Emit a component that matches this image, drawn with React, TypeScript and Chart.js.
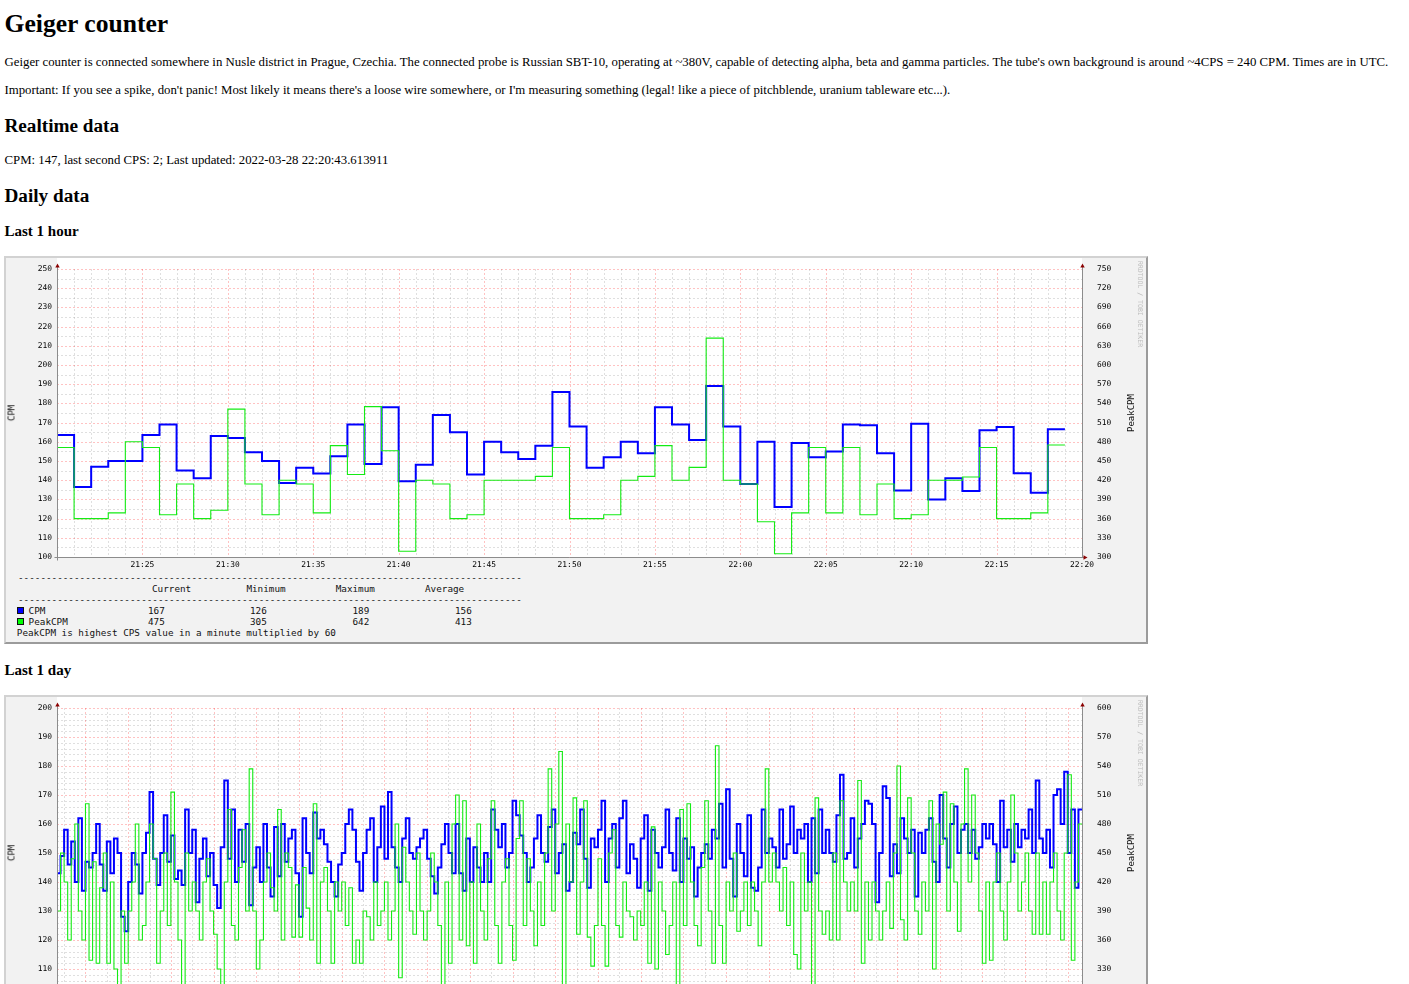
import React, { useEffect, useRef } from 'react';
import { Chart, registerables } from 'chart.js';

Chart.register(...registerables);

// ---------------- Last 1 hour: one value per minute, first step starts 21:20 UTC
const hourStart = '21:20';
const hourTickLabels = ['21:25', '21:30', '21:35', '21:40', '21:45', '21:50', '21:55', '22:00', '22:05', '22:10', '22:15', '22:20'];
const hourCPM = [
  163.5, 136.5, 147, 150, 150, 163.5, 169, 145, 141, 163, 162, 154.5, 150, 138.5, 146.5, 143.5, 152.5, 169, 148.5, 178,
  139.5, 148, 174, 165, 143, 160, 154.5, 151, 158, 186, 168, 146.5, 152, 160, 154, 178, 169, 161, 189, 168,
  138, 160, 126, 159.4, 152, 155, 169, 168.6, 154, 134.7, 169.4, 130, 141, 134.4, 166, 167.7, 143.6, 133.5, 166.5,
];
const hourPeakCPM = [
  471, 360, 360, 369, 480, 471, 366, 414, 360, 373, 531, 414, 366, 420, 414, 369, 474, 429, 535, 466,
  309, 420, 414, 360, 366, 420, 420, 420, 426, 471, 360, 360, 366, 420, 426, 474, 420, 440, 642, 420,
  414, 355, 305, 369, 471, 369, 471, 366, 414, 360, 366, 420, 420, 425, 471, 360, 360, 369, 475,
];
const hourLegendCPM = ['167', '126', '189', '156'];
const hourLegendPeak = ['475', '305', '642', '413'];

// ---------------- Last 1 day: 5-minute steps, first step starts 22:20 UTC the day before
const dayStart = '22:20';
const dayTickLabels = ['00:00', '02:00', '04:00', '06:00', '08:00', '10:00', '12:00', '14:00', '16:00', '18:00', '20:00', '22:00'];
const dayCPM = [
  143, 149, 158, 146, 154, 140, 162, 137, 147, 145, 150, 160,
  146, 137, 154, 143, 155, 150, 128, 123, 140, 150, 146, 136,
  150, 157, 171, 148, 139, 150, 163, 147, 156, 141, 144, 139,
  165, 150, 158, 133, 148, 155, 142, 150, 139, 131, 152, 175,
  148, 165, 140, 158, 147, 160, 132, 145, 152, 140, 160, 145,
  135, 159, 142, 160, 147, 155, 158, 143, 128, 162, 150, 143,
  164, 155, 158, 153, 147, 140, 135, 146, 150, 160, 165, 158,
  147, 137, 150, 158, 162, 140, 152, 166, 148, 171, 152, 145,
  140, 155, 162, 150, 148, 152, 155, 158, 148, 142, 136, 145,
  153, 160, 150, 143, 160, 143, 137, 155, 140, 152, 145, 140,
  150, 140, 165, 158, 152, 160, 145, 150, 168, 163, 156, 150,
  140, 145, 155, 163, 150, 147, 159, 165, 143, 150, 153, 137,
  140, 157, 153, 165, 148, 138, 155, 152, 158, 168, 140, 155,
  160, 145, 162, 168, 143, 153, 148, 138, 155, 163, 137, 158,
  150, 145, 152, 165, 150, 144, 162, 140, 155, 148, 152, 135,
  145, 150, 153, 148, 158, 155, 167, 145, 172, 148, 135, 160,
  150, 142, 163, 138, 137, 145, 165, 150, 155, 152, 145, 165,
  148, 153, 166, 150, 158, 155, 160, 140, 162, 143, 165, 150,
  158, 150, 147, 163, 177, 148, 150, 162, 145, 155, 160, 168,
  167, 160, 133, 150, 173, 169, 142, 153, 143, 162, 155, 150,
  158, 135, 157, 150, 158, 162, 147, 140, 170, 155, 145, 160,
  166, 150, 158, 160, 150, 158, 148, 152, 160, 155, 160, 153,
  140, 168, 152, 158, 147, 160, 152, 158, 155, 165, 150, 175,
  155, 150, 158, 145, 170, 172, 160, 178, 150, 165, 138, 165,
];
const dayPeakCPM = [
  390, 450, 420, 360, 444, 480, 390, 360, 501, 339, 441, 336,
  414, 450, 336, 420, 330, 300, 390, 336, 390, 420, 480, 360,
  375, 420, 480, 444, 336, 390, 450, 375, 513, 420, 360, 300,
  450, 390, 420, 390, 360, 420, 444, 390, 366, 330, 300, 420,
  495, 375, 360, 435, 474, 390, 537, 390, 330, 360, 420, 450,
  414, 390, 495, 360, 450, 435, 363, 417, 363, 435, 393, 360,
  501, 336, 420, 435, 390, 336, 420, 390, 420, 375, 414, 336,
  360, 336, 390, 384, 360, 420, 375, 390, 420, 360, 390, 480,
  321, 456, 420, 390, 366, 450, 390, 360, 390, 450, 420, 375,
  300, 420, 336, 480, 510, 360, 504, 354, 420, 336, 480, 390,
  360, 444, 504, 375, 336, 420, 444, 375, 339, 465, 504, 375,
  444, 390, 354, 420, 375, 450, 537, 390, 480, 555, 300, 480,
  420, 507, 366, 420, 504, 363, 333, 375, 444, 375, 333, 450,
  474, 375, 363, 420, 390, 384, 360, 390, 375, 420, 336, 477,
  330, 420, 390, 345, 375, 420, 300, 495, 375, 501, 420, 375,
  354, 435, 504, 390, 336, 561, 375, 336, 420, 390, 450, 369,
  390, 420, 375, 420, 390, 354, 420, 537, 420, 450, 420, 390,
  435, 375, 420, 345, 330, 450, 390, 420, 300, 507, 390, 366,
  390, 360, 450, 360, 504, 420, 390, 420, 390, 525, 336, 420,
  360, 420, 390, 360, 390, 420, 372, 450, 540, 381, 360, 507,
  450, 390, 366, 420, 390, 504, 330, 480, 459, 513, 390, 501,
  420, 369, 480, 537, 420, 510, 450, 390, 336, 420, 339, 420,
  450, 390, 360, 420, 510, 450, 390, 420, 450, 390, 366, 450,
  366, 420, 366, 420, 450, 390, 360, 450, 531, 339, 420, 480,
];

// ---------------- helpers
const MONO = '"DejaVu Sans Mono", monospace';
const SERIF = '"Liberation Serif", "Times New Roman", serif';

function toMinutes(hhmm: string): number {
  const [h, m] = hhmm.split(':').map(Number);
  return h * 60 + m;
}
function offsetFrom(start: string, label: string): number {
  let d = toMinutes(label) - toMinutes(start);
  if (d <= 0) d += 1440;
  return d;
}
function stats(values: number[]): string[] {
  const cur = values[values.length - 1];
  const min = Math.min(...values);
  const max = Math.max(...values);
  const avg = values.reduce((s, v) => s + v, 0) / values.length;
  return [cur, min, max, avg].map((v) => String(Math.round(v)));
}

const rrdDecor = {
  id: 'rrdDecor',
  beforeDraw(chart: any) {
    const { ctx, chartArea: a } = chart;
    ctx.save();
    ctx.fillStyle = '#ffffff';
    ctx.fillRect(a.left, 0, a.right - a.left, a.bottom);
    ctx.restore();
  },
  beforeDatasetsDraw(chart: any, _args: any, o: any) {
    const { ctx, chartArea: a, scales } = chart;
    const xs = scales.x;
    const ys = scales.y;
    ctx.save();
    ctx.lineWidth = 1;
    ctx.setLineDash([2, 2]);
    const vline = (val: number, color: string) => {
      const p = Math.round(xs.getPixelForValue(val)) + 0.5;
      ctx.strokeStyle = color;
      ctx.beginPath();
      ctx.moveTo(p, a.top);
      ctx.lineTo(p, a.bottom);
      ctx.stroke();
    };
    const hline = (val: number, color: string) => {
      const p = Math.round(ys.getPixelForValue(val)) + 0.5;
      ctx.strokeStyle = color;
      ctx.beginPath();
      ctx.moveTo(a.left, p);
      ctx.lineTo(a.right, p);
      ctx.stroke();
    };
    const isMajorX = (m: number) => (((m - o.xMajorStart) % o.xMajor) + o.xMajor) % o.xMajor === 0;
    for (let m = o.xMinorStart; m <= xs.max; m += o.xMinor) if (!isMajorX(m)) vline(m, o.minorColor);
    for (let m = ys.min; m <= ys.max; m += o.yMinor) if (m % o.yMajor !== 0) hline(m, o.minorColor);
    for (let m = o.xMajorStart; m <= xs.max; m += o.xMajor) vline(m, o.majorColor);
    for (let m = ys.min; m <= ys.max; m += o.yMajor) hline(m, o.majorColor);
    ctx.restore();
  },
  afterDatasetsDraw(chart: any) {
    const { ctx, chartArea: a } = chart;
    ctx.save();
    ctx.setLineDash([]);
    ctx.lineWidth = 1;
    ctx.strokeStyle = '#8c8c8c';
    const l = Math.round(a.left) + 0.5;
    const r = Math.round(a.right) + 0.5;
    const b = Math.round(a.bottom) + 0.5;
    ctx.beginPath();
    ctx.moveTo(l, a.top - 2);
    ctx.lineTo(l, b + 3);
    ctx.moveTo(r, a.top - 2);
    ctx.lineTo(r, b);
    ctx.moveTo(l - 3, b);
    ctx.lineTo(r + 2, b);
    ctx.stroke();
    ctx.fillStyle = '#8b0000';
    const up = (x: number) => {
      ctx.beginPath();
      ctx.moveTo(x - 2.2, a.top - 1.5);
      ctx.lineTo(x + 2.2, a.top - 1.5);
      ctx.lineTo(x, a.top - 5.5);
      ctx.closePath();
      ctx.fill();
    };
    up(l);
    up(r);
    ctx.beginPath();
    ctx.moveTo(r + 1, b - 2.2);
    ctx.lineTo(r + 1, b + 2.2);
    ctx.lineTo(r + 5, b);
    ctx.closePath();
    ctx.fill();
    ctx.restore();
  },
};

type GraphCfg = {
  start: string;
  span: number;
  step: number;
  cpm: number[];
  peak: number[];
  tickLabels: string[];
  yMin: number;
  yMax: number;
  y2Min: number;
  y2Max: number;
  grid: { xMinorStart: number; xMinor: number; xMajorStart: number; xMajor: number; yMinor: number; yMajor: number };
  plotHeight: number;
  legendCPM: string[];
  legendPeak: string[];
};

const hourGraph: GraphCfg = {
  start: hourStart,
  span: 60,
  step: 1,
  cpm: hourCPM,
  peak: hourPeakCPM,
  tickLabels: hourTickLabels,
  yMin: 100,
  yMax: 250,
  y2Min: 300,
  y2Max: 750,
  grid: { xMinorStart: 0, xMinor: 1, xMajorStart: 0, xMajor: 5, yMinor: 5, yMajor: 10 },
  plotHeight: 288,
  legendCPM: hourLegendCPM,
  legendPeak: hourLegendPeak,
};

const dayGraph: GraphCfg = {
  start: dayStart,
  span: 1440,
  step: 5,
  cpm: dayCPM,
  peak: dayPeakCPM,
  tickLabels: dayTickLabels,
  yMin: 100,
  yMax: 200,
  y2Min: 300,
  y2Max: 600,
  grid: { xMinorStart: 10, xMinor: 30, xMajorStart: 40, xMajor: 60, yMinor: 2, yMajor: 10 },
  plotHeight: 290,
  legendCPM: stats(dayCPM),
  legendPeak: stats(dayPeakCPM),
};

const PLOT_TOP = 11;
const AXIS_H = 14;
const CANVAS_W = 1140;
const TICK_FONT = { family: 'DejaVu Sans Mono', size: 7.9 };
const TICK_COLOR = '#000';

function toPoints(values: number[], step: number) {
  const pts = values.map((v, i) => ({ x: i * step, y: v }));
  pts.push({ x: values.length * step, y: values[values.length - 1] });
  return pts;
}

function noPad(s: any) {
  s.paddingTop = 0;
  s.paddingBottom = 0;
  s.paddingLeft = 0;
  s.paddingRight = 0;
}

function RRDGraph({ top, cfg }: { top: number; cfg: GraphCfg }) {
  const ref = useRef<HTMLCanvasElement>(null);
  const canvasH = PLOT_TOP + cfg.plotHeight + AXIS_H;
  const boxH = cfg.plotHeight + 100;
  const plotBottom = PLOT_TOP + cfg.plotHeight;
  const midY = PLOT_TOP + cfg.plotHeight / 2;

  useEffect(() => {
    const tickPos = cfg.tickLabels.map((l) => offsetFrom(cfg.start, l));
    const chart = new Chart(ref.current as HTMLCanvasElement, {
      type: 'line',
      data: {
        datasets: [
          {
            label: 'PeakCPM',
            data: toPoints(cfg.peak, cfg.step),
            yAxisID: 'y2',
            borderColor: 'rgb(20,235,20)',
            borderWidth: 1.1,
            pointRadius: 0,
            stepped: true,
            fill: false,
            order: 0,
          },
          {
            label: 'CPM',
            data: toPoints(cfg.cpm, cfg.step),
            yAxisID: 'y',
            borderColor: '#0000ff',
            borderWidth: 2,
            pointRadius: 0,
            stepped: true,
            fill: false,
            order: 1,
          },
        ],
      },
      options: {
        animation: false,
        responsive: false,
        maintainAspectRatio: false,
        layout: { padding: { top: PLOT_TOP, left: 0, right: 0, bottom: 0 } },
        plugins: {
          legend: { display: false },
          tooltip: { enabled: false },
          rrdDecor: {
            ...cfg.grid,
            minorColor: 'rgba(150,150,150,0.3)',
            majorColor: 'rgba(255,0,0,0.24)',
          },
        } as any,
        scales: {
          x: {
            type: 'linear',
            min: 0,
            max: cfg.span,
            grid: { display: false, drawTicks: false },
            border: { display: false },
            afterBuildTicks: (scale: any) => {
              scale.ticks = tickPos.map((v) => ({ value: v }));
            },
            ticks: {
              autoSkip: false,
              maxRotation: 0,
              padding: 3,
              font: TICK_FONT,
              color: TICK_COLOR,
              callback: (_v: any, i: number) => cfg.tickLabels[i],
            },
            afterFit: (s: any) => {
              s.height = AXIS_H;
              noPad(s);
            },
          },
          y: {
            type: 'linear',
            position: 'left',
            min: cfg.yMin,
            max: cfg.yMax,
            grid: { display: false, drawTicks: false },
            border: { display: false },
            ticks: { stepSize: 10, autoSkip: false, maxTicksLimit: 500, padding: 5, font: TICK_FONT, color: TICK_COLOR },
            afterFit: (s: any) => {
              s.width = 51;
              noPad(s);
            },
          },
          y2: {
            type: 'linear',
            position: 'right',
            min: cfg.y2Min,
            max: cfg.y2Max,
            grid: { display: false, drawTicks: false },
            border: { display: false },
            ticks: { stepSize: 30, autoSkip: false, maxTicksLimit: 500, padding: 15, font: TICK_FONT, color: TICK_COLOR },
            afterFit: (s: any) => {
              s.width = 64;
              noPad(s);
            },
          },
        } as any,
      },
      plugins: [rrdDecor as any],
    });
    return () => chart.destroy();
  }, [cfg]);

  const mono = { fontFamily: MONO, fontSize: 9.3, lineHeight: '11px', color: '#111', whiteSpace: 'pre' as const, position: 'absolute' as const };
  const row = (k: number) => plotBottom + 14.5 + k * 11;
  const dashes = '-'.repeat(90);
  const cols = [142, 244, 346.5, 449];
  const heads = [['Current', 146], ['Minimum', 240.4], ['Maximum', 329.7], ['Average', 419]] as const;
  const swatch = (color: string, k: number) => (
    <div style={{ position: 'absolute', left: 10.5, top: row(k) + 2, width: 7, height: 7, boxSizing: 'border-box', border: '1px solid #111', background: color }} />
  );

  return (
    <div
      style={{
        position: 'absolute',
        left: 4,
        top,
        width: 1144,
        height: boxH,
        boxSizing: 'border-box',
        borderStyle: 'solid',
        borderWidth: 2,
        borderColor: '#d2d2d2 #9b9b9b #9b9b9b #d2d2d2',
        background: '#f2f2f2',
      }}
    >
      <canvas ref={ref} width={CANVAS_W} height={canvasH} style={{ position: 'absolute', left: 0, top: 0, width: CANVAS_W, height: canvasH }} />
      <div style={{ position: 'absolute', left: 6, top: midY, transform: 'translate(-50%,-50%) rotate(-90deg)', fontFamily: MONO, fontSize: 9, lineHeight: 1, color: '#111', whiteSpace: 'nowrap' }}>CPM</div>
      <div style={{ position: 'absolute', left: 1125, top: midY, transform: 'translate(-50%,-50%) rotate(-90deg)', fontFamily: MONO, fontSize: 9, lineHeight: 1, color: '#111', whiteSpace: 'nowrap' }}>PeakCPM</div>
      <div style={{ position: 'absolute', left: 1134, top: 46, transform: 'translate(-50%,-50%) rotate(90deg)', fontFamily: MONO, fontSize: 6.5, lineHeight: 1, color: '#bdbdbd', whiteSpace: 'nowrap' }}>RRDTOOL / TOBI OETIKER</div>
      <div style={{ ...mono, left: 12, top: row(0) }}>{dashes}</div>
      {heads.map(([t, x]) => (
        <div key={t} style={{ ...mono, left: x, top: row(1) }}>{t}</div>
      ))}
      <div style={{ ...mono, left: 12, top: row(2) }}>{dashes}</div>
      {swatch('#0000ff', 3)}
      <div style={{ ...mono, left: 22.6, top: row(3) }}>CPM</div>
      {cfg.legendCPM.map((v, i) => (
        <div key={'c' + i} style={{ ...mono, left: cols[i], top: row(3) }}>{v}</div>
      ))}
      {swatch('#00ff00', 4)}
      <div style={{ ...mono, left: 22.6, top: row(4) }}>PeakCPM</div>
      {cfg.legendPeak.map((v, i) => (
        <div key={'p' + i} style={{ ...mono, left: cols[i], top: row(4) }}>{v}</div>
      ))}
      <div style={{ ...mono, left: 10.8, top: row(5) }}>PeakCPM is highest CPS value in a minute multiplied by 60</div>
    </div>
  );
}

function Txt({ tag, top, size, bold, children }: { tag: any; top: number; size: number; bold?: boolean; children: any }) {
  const Tag = tag;
  return (
    <Tag
      style={{
        position: 'absolute',
        left: 4.5,
        top,
        margin: 0,
        fontFamily: SERIF,
        fontSize: size,
        lineHeight: 1,
        fontWeight: bold ? 'bold' : 'normal',
        whiteSpace: 'nowrap',
        color: '#000',
      }}
    >
      {children}
    </Tag>
  );
}

export default function App() {
  return (
    <div style={{ position: 'absolute', left: 0, top: 0, width: 1409, height: 984, overflow: 'hidden', background: '#fff' }}>
      <Txt tag="h1" top={11.3} size={25.6} bold>Geiger counter</Txt>
      <Txt tag="p" top={55.8} size={12.8}>
        Geiger counter is connected somewhere in Nusle district in Prague, Czechia. The connected probe is Russian SBT-10, operating at ~380V, capable of detecting alpha, beta and gamma particles. The tube's own background is around ~4CPS = 240 CPM. Times are in UTC.
      </Txt>
      <Txt tag="p" top={83.6} size={12.8}>
        Important: If you see a spike, don't panic! Most likely it means there's a loose wire somewhere, or I'm measuring something (legal! like a piece of pitchblende, uranium tableware etc...).
      </Txt>
      <Txt tag="h2" top={116.2} size={19.2} bold>Realtime data</Txt>
      <Txt tag="p" top={154.3} size={12.8}>CPM: 147, last second CPS: 2; Last updated: 2022-03-28 22:20:43.613911</Txt>
      <Txt tag="h2" top={186.2} size={19.2} bold>Daily data</Txt>
      <Txt tag="h3" top={224.4} size={15} bold>Last 1 hour</Txt>
      <RRDGraph top={256} cfg={hourGraph} />
      <Txt tag="h3" top={663.4} size={15} bold>Last 1 day</Txt>
      <RRDGraph top={695} cfg={dayGraph} />
    </div>
  );
}
